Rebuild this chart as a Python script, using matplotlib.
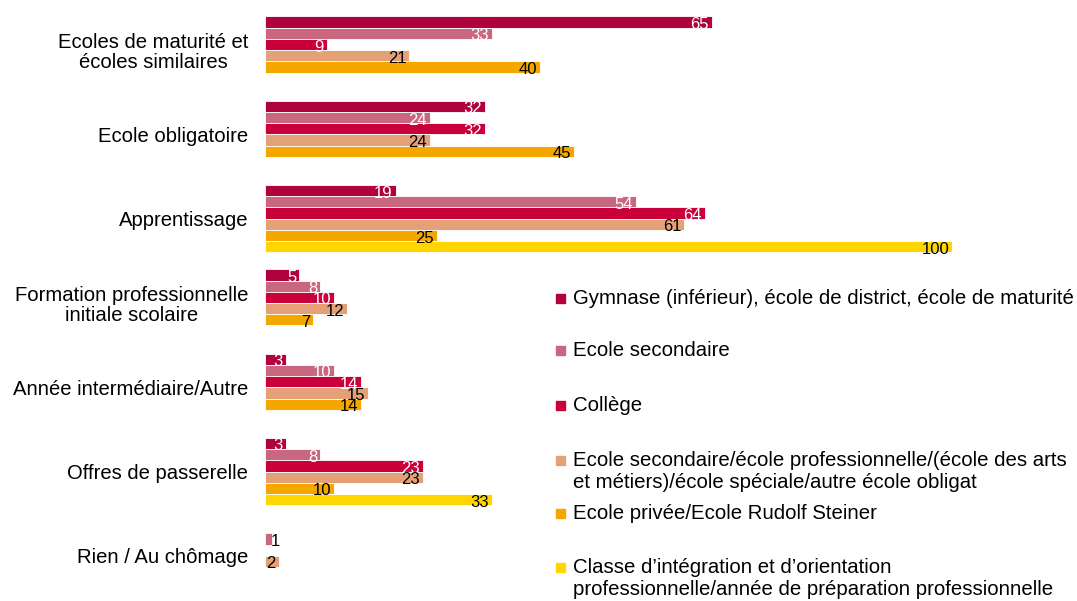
import numpy as np
import matplotlib.pyplot as plt
from matplotlib.patches import Rectangle

plt.rcParams['font.family'] = ['Liberation Sans', 'DejaVu Sans']

categories = ['Ecoles de maturité et\nécoles similaires', 'Ecole obligatoire', 'Apprentissage',
              'Formation professionnelle\ninitiale scolaire', 'Année intermédiaire/Autre',
              'Offres de passerelle', 'Rien / Au chômage']

series_names = ['Gymnase (inférieur), école de district, école de maturité',
                'Ecole secondaire',
                'Collège',
                'Ecole secondaire/école professionnelle/(école des arts\net métiers)/école spéciale/autre école obligat',
                'Ecole privée/Ecole Rudolf Steiner',
                'Classe d\u2019intégration et d\u2019orientation\nprofessionnelle/année de préparation professionnelle']

gymnase = [65, 32, 19, 5, 3, 3, np.nan]
ecole_sec = [33, 24, 54, 8, 10, 8, 1]
college = [9, 32, 64, 10, 14, 23, np.nan]
ecole_prof = [21, 24, 61, 12, 15, 23, 2]
privee = [40, 45, 25, 7, 14, 10, np.nan]
classe = [np.nan, np.nan, 100, np.nan, np.nan, 33, np.nan]

values = [gymnase, ecole_sec, college, ecole_prof, privee, classe]
colors = ['#B0023F', '#C9677E', '#C9003A', '#E4A077', '#F5A700', '#FFD600']
label_colors = ['white', 'white', 'white', 'black', 'black', 'black']

fig = plt.figure(figsize=(10.77, 6.01), dpi=100)
ax = fig.add_axes([265 / 1077, 3 / 601, 687 / 1077, 590 / 601])

n_ser = len(values)
group = n_ser + 1.5
cat_pos = np.arange(len(categories)) * group + group / 2

for j, (vals, col) in enumerate(zip(values, colors)):
    y = np.arange(len(categories)) * group + 0.75 + j + 0.5
    ax.barh(y, vals, height=1.0, color=col, edgecolor='white', linewidth=0.6)
    for yy, v in zip(y, vals):
        if np.isnan(v):
            continue
        if v < 2:
            ax.annotate(f'{v:g}', (v, yy), xytext=(-1, -1.8), textcoords='offset points',
                        ha='left', va='center', fontsize=12, color='black')
        else:
            ax.annotate(f'{v:g}', (v, yy), xytext=(-2, -1.8), textcoords='offset points',
                        ha='right', va='center', fontsize=12, color=label_colors[j])

ax.set_xlim(0, 100)
ax.set_ylim(len(categories) * group, 0)
ax.set_yticks(cat_pos, categories, fontsize=14.6, multialignment='center', linespacing=1.05)
ax.tick_params(axis='y', length=0, pad=12)
ax.set_xticks([])
for s in ax.spines.values():
    s.set_visible(False)

# legend drawn at the right side, one entry per series (marker beside first line)
leg_base = [304, 356, 411, 466, 519, 573]
for name, col, yb in zip(series_names, colors, leg_base):
    for k, line in enumerate(name.split('\n')):
        fig.text(573 / 1077, 1 - (yb + 22 * k) / 601, line, fontsize=14.7,
                 va='baseline', ha='left')
    fig.patches.append(Rectangle((556 / 1077, 1 - (yb - 1) / 601), 9 / 1077, 9 / 601,
                                 color=col, transform=fig.transFigure, figure=fig))

fig.savefig('out.png', dpi=100)
